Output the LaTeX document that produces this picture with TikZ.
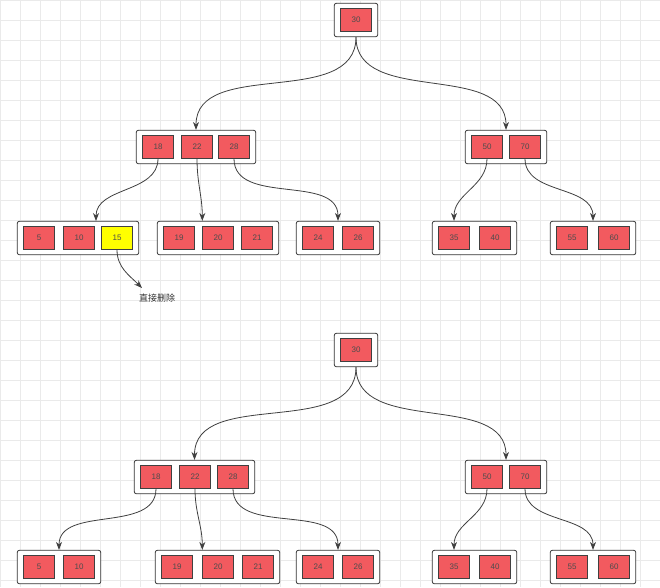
\documentclass[tikz,border=0pt]{standalone}
\usepackage{fontspec}
\setmainfont{Liberation Sans}
\newfontfamily\cjk{Noto Sans CJK SC}
\usetikzlibrary{arrows.meta,fit,positioning}
\definecolor{keyred}{HTML}{F25A5F}
\definecolor{keyyel}{HTML}{FFFF00}
\definecolor{gridc}{HTML}{EAEAEA}
\begin{document}
\begin{tikzpicture}[x=1pt, y=-1pt,
        key/.style={rectangle, draw=black!75, fill=keyred, minimum width=31pt, minimum height=23pt, inner sep=0pt, font=\fontsize{8}{9}\selectfont, text=black!70},
        hl/.style={key, fill=keyyel},
        box/.style={rectangle, draw=black!80, thick, rounded corners=2pt, inner xsep=6pt, inner ysep=5pt, fill=white},
        arr/.style={-{Stealth[length=8pt,width=6pt]}, thick, draw=black!75}
    ]
        \useasboundingbox (0,0) rectangle (660,587);
        \fill[white] (0,0) rectangle (660,587);
        \foreach \i in {0,20,...,660} \draw[gridc] (\i,0) -- (\i,587);
        \foreach \j in {0,20,...,580} \draw[gridc] (0,\j) -- (660,\j);

        % Upper tree
        \node[key] (r) at (356,20) {30};
        \node[box, fit=(r)] (rb) {};
        \node[key] at (356,20) {30};

        \node[key] (a18) at (158,147) {18};
        \node[key] (a28) at (234,147) {28};
        \node[box, fit=(a18)(a28)] (ab) {};
        \node[key] at (158,147) {18};
        \node[key] (a22) at (197,147) {22};
        \node[key] at (234,147) {28};

        \node[key] (b50) at (487,147) {50};
        \node[key] (b70) at (525,147) {70};
        \node[box, fit=(b50)(b70)] (bb) {};
        \node[key] at (487,147) {50};
        \node[key] at (525,147) {70};

        \node[key] (l5) at (39,238) {};
        \node[key] (l15) at (117,238) {};
        \node[box, fit=(l5)(l15)] (l1b) {};
        \node[key] at (39,238) {5};
        \node[key] at (79,238) {10};
        \node[hl] (l15) at (117,238) {15};

        \node[key] (l19) at (179,238) {};
        \node[key] (l21) at (257,238) {};
        \node[box, fit=(l19)(l21)] (l2b) {};
        \node[key] at (179,238) {19};
        \node[key] (l20) at (218,238) {20};
        \node[key] at (257,238) {21};

        \node[key] (l24) at (318,238) {};
        \node[key] (l26) at (358,238) {};
        \node[box, fit=(l24)(l26)] (l3b) {};
        \node[key] at (318,238) {24};
        \node[key] at (358,238) {26};

        \node[key] (l35) at (454,238) {};
        \node[key] (l40) at (495,238) {};
        \node[box, fit=(l35)(l40)] (l4b) {};
        \node[key] at (454,238) {35};
        \node[key] at (495,238) {40};

        \node[key] (l55) at (572,238) {};
        \node[key] (l60) at (614,238) {};
        \node[box, fit=(l55)(l60)] (l5b) {};
        \node[key] at (572,238) {55};
        \node[key] at (614,238) {60};

        \node[font=\cjk\small, text=black!80] (del) at (157,298) {直接删除};
        \coordinate (delt) at (142,288);
        \coordinate (l1t) at (96,221);

        % Upper arrows
        \draw[arr] (rb.south) to[out=-90, in=90] (ab.north);
        \draw[arr] (rb.south) to[out=-90, in=90] (bb.north);
        \draw[arr] (a18.south) to[out=-90, in=90] (l1t);
        \draw[arr] (a22.south) to[out=-90, in=90] (l2b.north -| l20.west);
        \draw[arr] (a28.south) to[out=-90, in=90] (l3b.north);
        \draw[arr] (b50.south) to[out=-90, in=90] (l4b.north -| l35.center);
        \draw[arr] (b70.south) to[out=-90, in=90] (l5b.north);
        \draw[arr] (l15.south) to[out=-90, in=135] (delt);

        % Lower tree
        \node[key] (rr) at (356,350) {30};
        \node[box, fit=(rr)] (rrb) {};
        \node[key] at (356,350) {30};

        \node[key] (c18) at (156,477) {};
        \node[key] (c28) at (233,477) {};
        \node[box, fit=(c18)(c28)] (cb) {};
        \node[key] at (156,477) {18};
        \node[key] (c22) at (195,477) {22};
        \node[key] at (233,477) {28};

        \node[key] (d50) at (487,477) {};
        \node[key] (d70) at (525,477) {};
        \node[box, fit=(d50)(d70)] (db) {};
        \node[key] at (487,477) {50};
        \node[key] at (525,477) {70};

        \node[key] (m5) at (39,567) {};
        \node[key] (m10) at (79,567) {};
        \node[box, fit=(m5)(m10)] (m1b) {};
        \node[key] at (39,567) {5};
        \node[key] at (79,567) {10};

        \node[key] (m19) at (177,567) {};
        \node[key] (m21) at (258,567) {};
        \node[box, fit=(m19)(m21)] (m2b) {};
        \node[key] at (177,567) {19};
        \node[key] (m20) at (218,567) {20};
        \node[key] at (258,567) {21};

        \node[key] (m24) at (318,567) {};
        \node[key] (m26) at (358,567) {};
        \node[box, fit=(m24)(m26)] (m3b) {};
        \node[key] at (318,567) {24};
        \node[key] at (358,567) {26};

        \node[key] (m35) at (454,567) {};
        \node[key] (m40) at (495,567) {};
        \node[box, fit=(m35)(m40)] (m4b) {};
        \node[key] at (454,567) {35};
        \node[key] at (495,567) {40};

        \node[key] (m55) at (572,567) {};
        \node[key] (m60) at (614,567) {};
        \node[box, fit=(m55)(m60)] (m5b) {};
        \node[key] at (572,567) {55};
        \node[key] at (614,567) {60};

        % Lower arrows
        \draw[arr] (rrb.south) to[out=-90, in=90] (cb.north);
        \draw[arr] (rrb.south) to[out=-90, in=90] (db.north);
        \draw[arr] (c18.south) to[out=-90, in=90] (m1b.north);
        \draw[arr] (c22.south) to[out=-90, in=90] (m2b.north -| m20.west);
        \draw[arr] (c28.south) to[out=-90, in=90] (m3b.north);
        \draw[arr] (d50.south) to[out=-90, in=90] (m4b.north -| m35.center);
        \draw[arr] (d70.south) to[out=-90, in=90] (m5b.north);
    \end{tikzpicture}
\end{document}
